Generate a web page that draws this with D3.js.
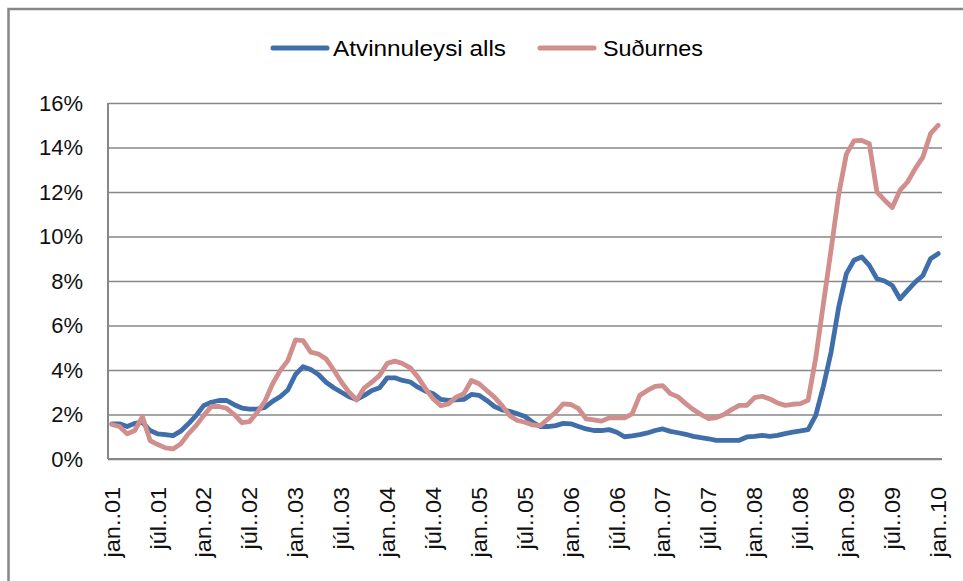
<!DOCTYPE html>
<html>
<head>
<meta charset="utf-8">
<script src="https://cdn.jsdelivr.net/npm/d3@7"></script>
<style>
  body { margin: 0; background: #fff; }
  svg { display: block; }
</style>
</head>
<body>
<svg width="963" height="581"></svg>
<script>
// monthly, jan 2001 - jan 2010
const monthNames = ['jan', 'feb', 'mar', 'apr', 'maí', 'jún', 'júl', 'ágú', 'sep', 'okt', 'nóv', 'des'];
const years = ['01', '02', '03', '04', '05', '06', '07', '08', '09', '10'];
const categories = [];
years.forEach(y => monthNames.forEach(m => categories.push(m + '..' + y)));
categories.length = 109;

const tickLabels = ['jan..01', 'júl..01', 'jan..02', 'júl..02', 'jan..03', 'júl..03', 'jan..04', 'júl..04',
  'jan..05', 'júl..05', 'jan..06', 'júl..06', 'jan..07', 'júl..07', 'jan..08', 'júl..08',
  'jan..09', 'júl..09', 'jan..10'];

const yTicks = [0, 2, 4, 6, 8, 10, 12, 14, 16];

const seriesNames = ['Atvinnuleysi alls', 'Suðurnes'];

const atvinnuleysiAlls = [
  1.58, 1.58, 1.46, 1.60, 1.65, 1.28, 1.13, 1.10, 1.05, 1.25, 1.58, 1.95,
  2.40, 2.55, 2.63, 2.63, 2.44, 2.29, 2.24, 2.24, 2.32, 2.59, 2.80, 3.10,
  3.80, 4.15, 4.02, 3.80, 3.45, 3.20, 3.00, 2.80, 2.68, 2.86, 3.08, 3.20,
  3.65, 3.65, 3.53, 3.46, 3.23, 3.05, 2.93, 2.68, 2.63, 2.66, 2.68, 2.90,
  2.86, 2.63, 2.36, 2.21, 2.14, 2.03, 1.91, 1.65, 1.46, 1.46, 1.50, 1.60,
  1.58, 1.46, 1.35, 1.28, 1.28, 1.32, 1.20, 1.00, 1.04, 1.10, 1.17, 1.28,
  1.35, 1.24, 1.18, 1.11, 1.02, 0.96, 0.91, 0.84, 0.84, 0.84, 0.84, 0.99,
  1.02, 1.06, 1.02, 1.06, 1.14, 1.21, 1.26, 1.32, 1.96, 3.27, 4.80, 6.83,
  8.33, 8.93, 9.08, 8.70, 8.10, 8.00, 7.80, 7.20, 7.58, 7.95, 8.25, 9.00,
  9.23
];

const sudurnes = [
  1.55, 1.46, 1.13, 1.28, 1.90, 0.83, 0.65, 0.50, 0.45, 0.68, 1.13, 1.50,
  1.95, 2.36, 2.36, 2.28, 2.00, 1.64, 1.68, 2.09, 2.59, 3.37, 3.97, 4.42,
  5.35, 5.32, 4.80, 4.72, 4.50, 4.00, 3.46, 3.00, 2.65, 3.20, 3.46, 3.76,
  4.30, 4.40, 4.29, 4.10, 3.68, 3.16, 2.70, 2.40, 2.48, 2.78, 2.93, 3.53,
  3.38, 3.08, 2.78, 2.40, 1.95, 1.73, 1.65, 1.53, 1.50, 1.80, 2.10, 2.48,
  2.45, 2.26, 1.80, 1.76, 1.70, 1.85, 1.85, 1.85, 2.03, 2.86, 3.08, 3.26,
  3.30, 2.94, 2.79, 2.49, 2.22, 2.00, 1.81, 1.86, 2.00, 2.22, 2.41, 2.41,
  2.76, 2.82, 2.70, 2.52, 2.41, 2.46, 2.49, 2.64, 4.54, 6.98, 9.40, 11.90,
  13.70, 14.30, 14.32, 14.17, 12.00, 11.63, 11.30, 12.07, 12.45, 13.05, 13.57, 14.62,
  15.00
];

const colors = ['#3f6eaa', '#d08e8c'];
const gridColor = '#878787';

const margin = { top: 103, right: 21, bottom: 122, left: 108 };
const width = 963 - margin.left - margin.right;
const height = 581 - margin.top - margin.bottom;

const svg = d3.select('svg');

// outer chart frame (only left/top edges show)
svg.append('rect')
  .attr('x', 8.5).attr('y', 9)
  .attr('width', 1000).attr('height', 700)
  .attr('fill', 'none')
  .attr('stroke', gridColor)
  .attr('stroke-width', 2.5);

const g = svg.append('g').attr('transform', `translate(${margin.left},${margin.top})`);

const x = d3.scalePoint()
  .domain(categories)
  .range([0, width])
  .padding(0.5);

const y = d3.scaleLinear()
  .domain([0, 16])
  .range([height, 0]);

// gridlines + y labels
const yAxis = g.append('g')
  .call(d3.axisLeft(y).tickValues(yTicks).tickSize(-width).tickPadding(25).tickFormat(d => d + '%'));
yAxis.select('.domain').remove();
yAxis.selectAll('line')
  .attr('stroke', gridColor)
  .attr('stroke-width', 1.6);
yAxis.selectAll('text')
  .attr('fill', '#111')
  .style('font-family', '"Liberation Sans", Arial, sans-serif')
  .style('font-size', '22px');

// left axis line
g.append('line')
  .attr('x1', 0).attr('x2', 0)
  .attr('y1', 0).attr('y2', height)
  .attr('stroke', gridColor)
  .attr('stroke-width', 2);

// x axis labels
const tickCats = categories.filter((c, i) => i % 6 === 0);
const xAxis = g.append('g')
  .attr('transform', `translate(0,${height})`)
  .call(d3.axisBottom(x).tickValues(tickCats).tickSize(0).tickFormat((d, i) => tickLabels[i]));
xAxis.select('.domain')
  .attr('stroke', gridColor)
  .attr('stroke-width', 2.2)
  .attr('d', `M0,0H${width}`);
xAxis.selectAll('text')
  .attr('fill', '#111')
  .style('font-family', '"Liberation Sans", Arial, sans-serif')
  .style('font-size', '22px')
  .attr('text-anchor', 'end')
  .attr('x', -26)
  .attr('y', 0)
  .attr('dy', '0.33em')
  .attr('transform', 'rotate(-90) scale(1.07,1)');

// lines
const line = d3.line()
  .x((d, i) => x(categories[i]))
  .y(d => y(d));

[atvinnuleysiAlls, sudurnes].forEach((s, k) => {
  g.append('path')
    .datum(s)
    .attr('fill', 'none')
    .attr('stroke', colors[k])
    .attr('stroke-width', 4.8)
    .attr('stroke-linejoin', 'round')
    .attr('stroke-linecap', 'round')
    .attr('d', line);
});

// legend
const legendPos = [{ x: 273, w: 173 }, { x: 540, w: 100 }];
const legend = svg.append('g');
seriesNames.forEach((name, k) => {
  const lg = legend.append('g').attr('transform', `translate(${legendPos[k].x},48)`);
  lg.append('line')
    .attr('x1', 0).attr('x2', 54)
    .attr('stroke', colors[k])
    .attr('stroke-width', 5)
    .attr('stroke-linecap', 'round');
  lg.append('text')
    .attr('x', k === 0 ? 60 : 63)
    .attr('y', 8)
    .attr('textLength', legendPos[k].w)
    .attr('lengthAdjust', 'spacingAndGlyphs')
    .style('font-family', '"Liberation Sans", Arial, sans-serif')
    .style('font-size', '22px')
    .text(name);
});
</script>
</body>
</html>
